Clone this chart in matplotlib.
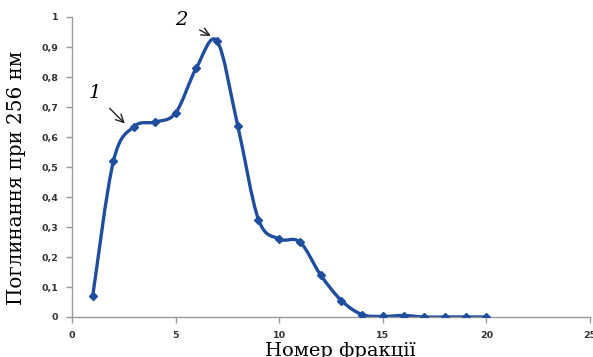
import numpy as np
import matplotlib
matplotlib.use("Agg")
import matplotlib.pyplot as plt
from matplotlib.path import Path
from matplotlib.patches import PathPatch

fraction = [1, 2, 3, 4, 5, 6, 7, 8, 9, 10, 11, 12, 13, 14, 15, 16, 17, 18, 19, 20]
absorbance = [0.07, 0.52, 0.635, 0.65, 0.68, 0.83, 0.92, 0.637, 0.325, 0.26, 0.25,
              0.14, 0.055, 0.008, 0.002, 0.005, 0.0, 0.0, 0.0, 0.0]
x_ticks = [0, 5, 10, 15, 20, 25]
y_ticks = [0, 0.1, 0.2, 0.3, 0.4, 0.5, 0.6, 0.7, 0.8, 0.9, 1]
y_tick_labels = ["0", "0,1", "0,2", "0,3", "0,4", "0,5", "0,6", "0,7", "0,8", "0,9", "1"]

color = "#1f4e9e"

fig = plt.figure(figsize=(5.93, 3.57), dpi=100)
ax = fig.add_axes([72/593, 40/357, 518/593, 300/357])

# Excel-like smoothed line (Catmull-Rom as cubic Bezier segments)
x = np.array(fraction, dtype=float)
y = np.array(absorbance, dtype=float)
verts = [(x[0], y[0])]
codes = [Path.MOVETO]
n = len(x)
for i in range(n - 1):
    p0 = np.array([x[max(i - 1, 0)], y[max(i - 1, 0)]])
    p1 = np.array([x[i], y[i]])
    p2 = np.array([x[i + 1], y[i + 1]])
    p3 = np.array([x[min(i + 2, n - 1)], y[min(i + 2, n - 1)]])
    c1 = p1 + (p2 - p0) / 6.0
    c2 = p2 - (p3 - p1) / 6.0
    verts += [tuple(c1), tuple(c2), tuple(p2)]
    codes += [Path.CURVE4] * 3
ax.add_patch(PathPatch(Path(verts, codes), fill=False, edgecolor=color, lw=2.4,
                       capstyle="round", joinstyle="round", zorder=2))
ax.plot(fraction, absorbance, linestyle="none", marker="D", markersize=4.5,
        color=color, zorder=3)

ax.set_xlim(0, 25)
ax.set_ylim(0, 1)
ax.set_xticks(x_ticks)
ax.set_yticks(y_ticks)
ax.set_yticklabels(y_tick_labels)
for s in ["top", "right"]:
    ax.spines[s].set_visible(False)
for s in ["left", "bottom"]:
    ax.spines[s].set_color("#9a9a9a")
    ax.spines[s].set_linewidth(1.0)
ax.tick_params(direction="out", length=4, width=1.0, color="#9a9a9a",
               labelsize=6.8, labelcolor="#333333", pad=6)
for lab in ax.get_xticklabels() + ax.get_yticklabels():
    lab.set_fontweight("bold")

ax.set_ylabel("Поглинання при 256 нм", fontsize=14.3, family="DejaVu Serif")
ax.yaxis.set_label_coords(-46/518, 0.465)
ax.set_xlabel("Номер фракції", fontsize=14, family="DejaVu Serif")
ax.xaxis.set_label_coords(0.518, -0.085)
ax.xaxis.label.set_va("top")

ax.annotate("1", xy=(2.55, 0.645), xytext=(1.1, 0.745), fontsize=14,
            family="DejaVu Serif", style="italic", ha="center", va="center",
            arrowprops=dict(arrowstyle="->", color="#222222", lw=1.0,
                            shrinkA=6, shrinkB=0))
ax.annotate("2", xy=(6.7, 0.937), xytext=(5.25, 0.99), fontsize=14,
            family="DejaVu Serif", style="italic", ha="center", va="center",
            annotation_clip=False,
            arrowprops=dict(arrowstyle="->", color="#222222", lw=1.0,
                            shrinkA=8, shrinkB=0))

fig.savefig("out.png", dpi=100)
